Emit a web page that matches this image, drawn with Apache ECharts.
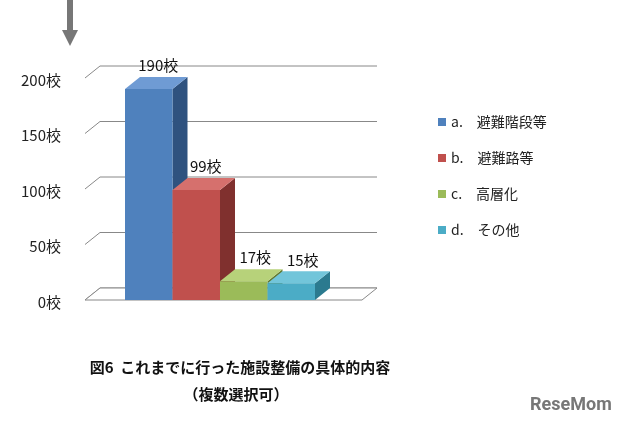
<!DOCTYPE html>
<html><head><meta charset="utf-8">
<script src="https://cdn.jsdelivr.net/npm/echarts@6/dist/echarts.min.js"></script>
<style>html,body{margin:0;padding:0;background:#fff}#c{width:640px;height:426px}</style>
</head><body><div id="c"></div>
<script>
const categories = ['a.', 'b.', 'c.', 'd.'];
const legendNames = ['a.　避難階段等', 'b.　避難路等', 'c.　高層化', 'd.　その他'];
const values = [190, 99, 17, 15];
const yTicks = [0, 50, 100, 150, 200];
const colors = ['#4f81bd', '#c0504d', '#9bbb59', '#4bacc6'];
const sides = ['#2f527f', '#80302e', '#62792f', '#2b7a8f'];
const tops = ['#6f9bd4', '#d6706d', '#b7d27a', '#72c5da'];
const DX = 15, DY = 12;
const chart = echarts.init(document.getElementById('c'));
function barItem(i) {
  return function (params, api) {
    const p = api.coord([api.value(0), api.value(1)]);
    const b = api.coord([api.value(0), 0]);
    const w = api.size([1, 0])[0];
    const x0 = p[0] - w / 2, x1 = p[0] + w / 2;
    return { type: 'group', children: [
      { type: 'polygon', shape: { points: [[x1, p[1]], [x1 + DX, p[1] - DY], [x1 + DX, b[1] - DY], [x1, b[1]]] }, style: { fill: sides[i] } },
      { type: 'polygon', shape: { points: [[x0, p[1]], [x0 + DX, p[1] - DY], [x1 + DX, p[1] - DY], [x1, p[1]]] }, style: { fill: tops[i] } },
      { type: 'rect', shape: { x: x0, y: p[1], width: w, height: b[1] - p[1] }, style: { fill: colors[i] } },
      { type: 'text', style: { text: values[i] + '校', x: p[0] + DX / 2 + (i >= 2 ? 4 : 2), y: p[1] - DY - 4, align: 'center', verticalAlign: 'bottom', fontSize: 15, fill: '#111', fontFamily: 'Noto Sans CJK JP' } }
    ]};
  };
}
const series = categories.map((c, i) => ({
  type: 'custom', name: legendNames[i], itemStyle: { color: colors[i] },
  renderItem: barItem(i), data: [[i, values[i]]], z: 3
}));
series.unshift({
  type: 'custom', name: 'grid', silent: true, z: 1,
  renderItem: function (params, api) {
    const cs = params.coordSys;
    const y = api.coord([0, api.value(0)])[1];
    const xl = cs.x - 40, xr = cs.x + cs.width + 62;
    const ch = [{ type: 'polyline', shape: { points: [[xl, y], [xl + DX, y - DY], [xr, y - DY]] }, style: { stroke: '#888', lineWidth: 1, fill: null } }];
    if (api.value(0) === 0) {
      ch.push({ type: 'polygon', shape: { points: [[xl, y], [xl + DX, y - DY], [xr, y - DY], [xr - DX, y]] }, style: { fill: '#fff', stroke: '#888' } });
    }
    return { type: 'group', children: ch };
  },
  data: yTicks.map(v => [v])
});
chart.setOption({
  animation: false,
  textStyle: { fontFamily: 'Noto Sans CJK JP' },
  grid: { left: 125, right: 325, top: 78, bottom: 126 },
  xAxis: { type: 'category', data: categories, show: false },
  yAxis: { type: 'value', min: 0, max: 200, interval: 50, splitLine: { show: false },
    axisLine: { show: false }, axisTick: { show: false },
    axisLabel: { margin: 64, fontSize: 15, color: '#222', verticalAlign: 'top', lineHeight: 4, formatter: v => v + '校' } },
  legend: { data: legendNames, orient: 'vertical', left: 433, top: 110, itemGap: 22,
    itemWidth: 8, itemHeight: 8, icon: 'rect', textStyle: { fontSize: 14, color: '#222' } },
  graphic: [
    { type: 'rect', shape: { x: 67, y: 0, width: 6, height: 32 }, style: { fill: '#777' } },
    { type: 'polygon', shape: { points: [[62, 30], [78, 30], [70, 46]] }, style: { fill: '#777' } },
    { type: 'text', style: { text: '図6  これまでに行った施設整備の具体的内容', x: 240, y: 367, align: 'center', verticalAlign: 'middle', fontSize: 15, fontWeight: 'bold', fill: '#111', fontFamily: 'Noto Sans CJK JP' } },
    { type: 'text', style: { text: '（複数選択可）', x: 236, y: 394, align: 'center', verticalAlign: 'middle', fontSize: 15, fontWeight: 'bold', fill: '#111', fontFamily: 'Noto Sans CJK JP' } },
    { type: 'text', style: { text: 'ReseMom', x: 530, y: 405, verticalAlign: 'middle', fontSize: 18, fontWeight: 'bold', fill: '#777', fontFamily: 'Roboto' } }
  ],
  series: series
});
</script></body></html>
